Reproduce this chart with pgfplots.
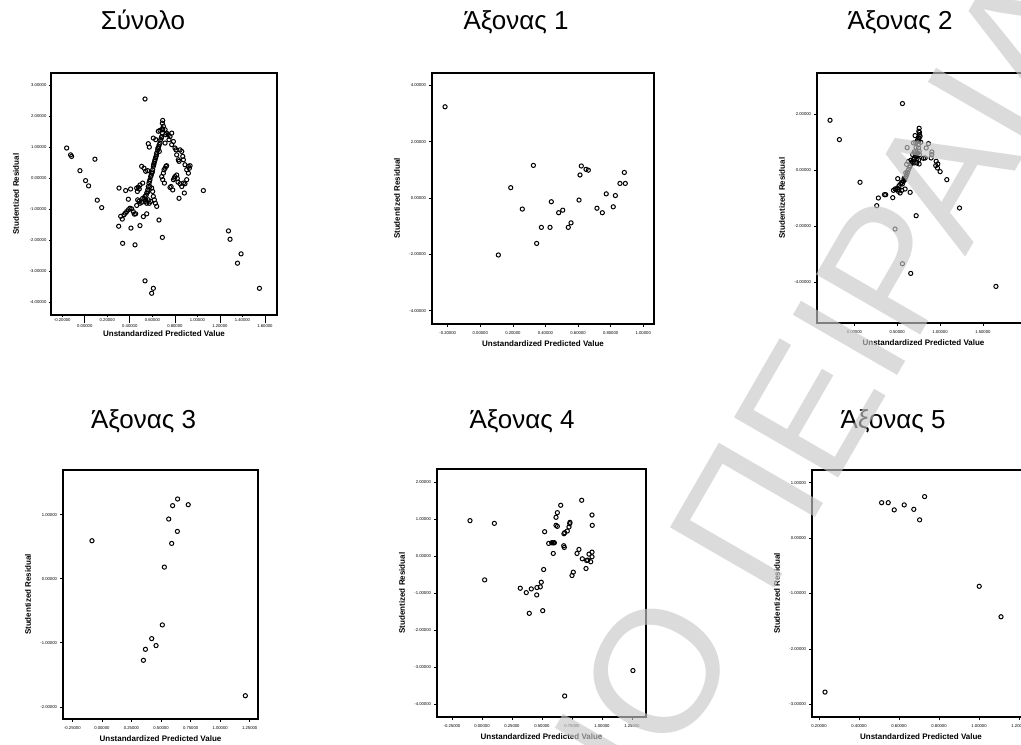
\documentclass[border=0pt]{standalone}
\usepackage{fontspec}
\setmainfont{Liberation Sans}
\usepackage{pgfplots}
\pgfplotsset{compat=1.18}

\newcommand\ticfont{\fontsize{2.1}{2.5}\selectfont}
\newcommand\labfont{\fontsize{4}{4.8}\selectfont\bfseries}
\newcommand\titfont{\fontsize{13}{15}\selectfont}
\definecolor{wm}{rgb}{0.78,0.78,0.78}

\pgfplotsset{spss/.style={
  scale only axis, anchor=south west,
  axis line style={line width=0.6pt},
  tick align=outside, xtick pos=bottom, ytick pos=left,
  major tick length=1.5pt,
  tick style={black, line width=0.35pt},
  tick label style={font=\ticfont},
  xticklabel style={inner sep=0pt, anchor=north, yshift=-2.2pt},
  yticklabel style={inner sep=0pt, anchor=east, xshift=-1.3pt},
  /pgf/number format/fixed, /pgf/number format/fixed zerofill,
  /pgf/number format/precision=5, /pgf/number format/assume math mode=true,
  scaled ticks=false,
  every axis y label/.style={font=\labfont, at={(axis description cs:0,0.5)}, xshift=-17.5pt, rotate=90, anchor=center},
  every axis x label/.style={font=\labfont, at={(axis description cs:0.5,0)}, yshift=-10pt, anchor=center},
  xlabel={Unstandardized Predicted Value},
  ylabel={Studentized Residual},
},
pts/.style={black, only marks, mark=o, mark size=1.05pt, mark options={line width=0.5pt, fill=none, draw=black}}}

\begin{document}
\begin{tikzpicture}[x=0.5pt,y=-0.5pt]
\useasboundingbox (0,0) rectangle (1021,744);
\clip (0,0) rectangle (1021,744);
\coordinate (p1) at (51,315);
\coordinate (p2) at (432,324);
\coordinate (p3) at (817,323);
\coordinate (p4) at (63,719);
\coordinate (p5) at (437,717);
\coordinate (p6) at (812,717);

% titles
\node[font=\titfont, anchor=base, inner sep=0pt] at (143,29) {Σύνολο};
\node[font=\titfont, anchor=base, inner sep=0pt] at (516,29) {Άξονας 1};
\node[font=\titfont, anchor=base, inner sep=0pt] at (900,29) {Άξονας 2};
\node[font=\titfont, anchor=base, inner sep=0pt] at (143.5,428) {Άξονας 3};
\node[font=\titfont, anchor=base, inner sep=0pt] at (522,428) {Άξονας 4};
\node[font=\titfont, anchor=base, inner sep=0pt] at (893,428) {Άξονας 5};

% Panel 1: Σύνολο
\begin{axis}[spss, at={(p1)}, width=113pt, height=121pt,
  xmin=-0.300, xmax=1.707, ymin=-4.41, ymax=3.387,
  xtick={-0.2,0.2,0.6,1.0,1.4}, ytick={-4,-3,-2,-1,0,1,2,3},
  major tick length=0.8pt,
  xticklabel style={yshift=1.4pt},
  extra x ticks={0,0.4,0.8,1.2,1.6},
  extra x tick style={major tick length=4pt, xticklabel style={yshift=0.35pt}},
  every axis x label/.style={font=\labfont, at={(axis description cs:0.5,0)}, yshift=-9.3pt, anchor=center}]
\addplot[pts] coordinates {
(-0.161,0.97) (-0.126,0.75) (-0.117,0.70) (-0.043,0.24) (0.007,-0.08) (0.034,-0.25)
(0.090,0.61) (0.111,-0.71) (0.150,-0.95) (0.304,-0.32) (0.301,-1.55) (0.319,-1.23)
(0.333,-1.32) (0.336,-2.10) (0.363,-0.40) (0.387,-0.68) (0.407,-0.35) (0.446,-2.15)
(0.535,2.55) (0.535,-3.31) (0.609,-3.55) (0.594,-3.71) (0.689,-1.91) (0.659,-1.35)
(1.053,-0.40) (1.276,-1.70) (1.290,-1.97) (1.388,-2.44) (1.356,-2.74) (1.551,-3.55)
(0.348,-1.18) (0.360,-1.13) (0.372,-1.08) (0.387,-1.02) (0.401,-0.97) (0.416,-0.99)
(0.431,-1.08) (0.440,-1.16) (0.452,-1.15) (0.461,-0.88) (0.470,-0.70) (0.481,-0.75)
(0.490,-0.81) (0.505,-0.78) (0.514,-0.65) (0.526,-0.68) (0.541,-0.70) (0.467,-0.43)
(0.476,-0.29) (0.484,-0.35) (0.490,-0.22) (0.461,-0.32) (0.410,-1.61) (0.490,-1.53)
(0.520,-1.24) (0.550,-1.15) (0.514,-0.16) (0.505,0.38) (0.526,0.32) (0.541,0.22)
(0.559,0.24) (0.564,1.11) (0.573,1.00) (0.609,1.29) (0.630,1.24)
(0.535,-0.59) (0.550,-0.48) (0.559,-0.38) (0.564,-0.27) (0.570,-0.16) (0.579,-0.05)
(0.585,0.05) (0.594,0.16) (0.603,0.27) (0.609,0.38) (0.615,0.48) (0.624,0.59)
(0.633,0.70) (0.639,0.81) (0.647,0.91) (0.656,1.02) (0.668,1.13) (0.674,1.24)
(0.683,1.34) (0.689,1.45) (0.692,1.56) (0.698,1.67) (0.689,1.77) (0.692,1.86)
(0.545,-0.55) (0.560,-0.44) (0.575,-0.10) (0.590,0.10) (0.600,0.20) (0.612,0.43)
(0.620,0.54) (0.628,0.65) (0.636,0.75) (0.650,0.97) (0.662,1.08) (0.680,1.30)
(0.713,1.56) (0.727,1.45) (0.742,1.40) (0.757,1.34) (0.772,1.45) (0.748,1.24)
(0.772,1.08) (0.787,1.18) (0.801,0.97) (0.810,0.91) (0.816,0.75) (0.831,0.59)
(0.837,0.54) (0.846,0.91) (0.861,0.86) (0.870,0.70) (0.876,0.59) (0.890,0.43)
(0.905,0.27) (0.920,0.38) (0.929,0.32) (0.935,0.40) (0.920,0.16) (0.905,-0.05)
(0.890,-0.18) (0.876,-0.16) (0.861,-0.27) (0.846,-0.18) (0.884,-0.48) (0.837,-0.65)
(0.698,0.16) (0.704,0.27) (0.713,0.32) (0.721,0.38) (0.727,0.40) (0.683,0.05)
(0.692,-0.05) (0.707,-0.16) (0.757,-0.30) (0.766,-0.27) (0.781,-0.38) (0.787,-0.05)
(0.796,0.00) (0.801,0.05) (0.816,0.10) (0.822,-0.01) (0.828,-0.13) (0.713,1.13)
(0.719,1.40) (0.653,1.51) (0.668,1.54) (0.689,1.59) (0.653,0.97) (0.662,0.86)
(0.579,-0.27) (0.594,-0.32) (0.603,-0.43) (0.609,-0.59) (0.618,-0.70) (0.627,-0.81)
(0.639,-0.91) (0.564,-0.70) (0.573,-0.81) (0.585,-0.75) (0.550,-0.81) (0.538,-0.75)
};
\end{axis}

% Panel 2: Άξονας 1
\begin{axis}[spss, at={(p2)}, width=111pt, height=125.5pt,
  xmin=-0.296, xmax=1.066, ymin=-4.47, ymax=4.44,
  xtick={-0.2,0,0.2,0.4,0.6,0.8,1.0}, ytick={-4,-2,0,2,4}]
\addplot[pts] coordinates {
(-0.216,3.24) (0.111,-2.02) (0.187,0.37) (0.258,-0.39) (0.326,1.16) (0.346,-1.61)
(0.375,-1.04) (0.428,-1.04) (0.436,-0.13) (0.481,-0.52) (0.506,-0.43) (0.540,-1.04)
(0.557,-0.88) (0.606,-0.07) (0.612,0.82) (0.620,1.14) (0.649,1.02) (0.663,0.99)
(0.716,-0.36) (0.749,-0.52) (0.773,0.15) (0.816,-0.31) (0.829,0.09) (0.857,0.52)
(0.884,0.91) (0.890,0.52)
};
\end{axis}

% Panel 3: Άξονας 2
\begin{axis}[spss, at={(p3)}, width=106.5pt, height=125pt,
  xmin=-0.436, xmax=2.05, ymin=-5.46, ymax=3.46,
  xtick={0,0.5,1.0,1.5}, ytick={-4,-2,0,2}]
\addplot[pts] coordinates {
(-0.284,1.774) (-0.175,1.083) (0.066,-0.440) (0.261,-1.274) (0.280,-1.000) (0.351,-0.881)
(0.366,-0.881) (0.448,-0.988) (0.475,-2.107) (0.506,-0.310) (0.561,2.369) (0.561,-3.345)
(0.658,-3.690) (0.651,-0.798) (0.721,-1.631) (1.227,-1.357) (1.079,-0.345) (1.652,-4.155)
(1.001,-0.060) (0.970,0.070) (0.950,0.155) (0.974,0.214) (0.955,0.310) (0.904,0.548)
(0.904,0.643) (0.896,0.429) (0.865,0.940) (0.838,0.786) (0.826,0.429) (0.806,0.417)
(0.775,0.988) (0.709,1.226) (0.756,1.488) (0.760,1.345) (0.767,1.202) (0.616,0.798)
(0.690,0.964) (0.717,0.964)
(0.752,1.381) (0.760,1.262) (0.756,1.143) (0.752,1.024) (0.748,0.905) (0.748,0.786)
(0.756,0.667) (0.760,0.548) (0.752,0.369) (0.756,0.214)
(0.487,-0.702) (0.503,-0.643) (0.522,-0.560) (0.541,-0.488) (0.553,-0.440) (0.573,-0.405)
(0.588,-0.345) (0.600,-0.250) (0.612,-0.167) (0.619,-0.083) (0.631,0.012) (0.643,0.095)
(0.651,0.155) (0.662,0.226) (0.674,0.286) (0.690,0.369) (0.701,0.429) (0.713,0.512)
(0.725,0.583) (0.456,-0.726) (0.475,-0.679) (0.514,-0.762) (0.534,-0.821) (0.553,-0.726)
(0.592,-0.679) (0.705,0.607) (0.721,0.488) (0.728,0.250) (0.697,0.250) (0.610,0.200)
(0.630,0.300) (0.660,0.350) (0.680,0.550) (0.700,0.650) (0.720,0.800) (0.735,1.050)
(0.745,1.150) (0.730,0.400) (0.740,0.600) (0.600,-0.100) (0.580,-0.300) (0.560,-0.500)
(0.520,-0.700)
};
\end{axis}

% Panel 4: Άξονας 3
\begin{axis}[spss, at={(p4)}, width=97.5pt, height=124.5pt,
  xmin=-0.329, xmax=1.32, ymin=-2.19, ymax=1.70,
  xtick={-0.25,0,0.25,0.5,0.75,1.0,1.25}, ytick={-2,-1,0,1}]
\addplot[pts] coordinates {
(-0.084,0.595) (0.640,1.247) (0.598,1.143) (0.730,1.158) (0.565,0.934) (0.638,0.741)
(0.590,0.553) (0.528,0.183) (0.511,-0.720) (0.421,-0.934) (0.458,-1.043) (0.368,-1.101)
(0.351,-1.273) (1.213,-1.826)
};
\end{axis}

% Panel 5: Άξονας 4
\begin{axis}[spss, at={(p5)}, width=104.5pt, height=124pt,
  xmin=-0.375, xmax=1.367, ymin=-4.34, ymax=2.35,
  xtick={-0.25,0,0.25,0.5,0.75,1.0,1.25}, ytick={-4,-3,-2,-1,0,1,2}]
\addplot[pts] coordinates {
(-0.100,0.957) (0.103,0.884) (0.022,-0.641) (0.319,-0.866) (0.369,-0.984) (0.411,-0.884)
(0.394,-1.543) (0.458,-0.848) (0.456,-1.047) (0.486,-0.830) (0.494,-0.704) (0.506,-1.471)
(0.514,-0.361) (0.522,0.659) (0.556,0.343) (0.581,0.361) (0.592,0.361) (0.597,0.361)
(0.603,0.361) (0.594,0.072) (0.617,1.047) (0.628,1.173) (0.617,0.830) (0.628,0.803)
(0.656,1.372) (0.683,0.605) (0.689,0.632) (0.681,0.280) (0.686,0.235) (0.711,0.677)
(0.725,0.785) (0.731,0.875) (0.733,0.911) (0.750,-0.523) (0.761,-0.433) (0.792,0.072)
(0.808,0.180) (0.831,1.507) (0.836,-0.072) (0.872,-0.117) (0.881,-0.108) (0.867,-0.334)
(0.892,0.054) (0.906,-0.153) (0.917,-0.018) (0.917,0.108) (0.917,1.110) (0.919,0.830)
(0.689,-3.773) (1.258,-3.087)
};
\end{axis}

% Panel 6: Άξονας 5
\begin{axis}[spss, at={(p6)}, width=109pt, height=123.5pt,
  xmin=0.165, xmax=1.255, ymin=-3.23, ymax=1.23,
  xtick={0.2,0.4,0.6,0.8,1.0,1.2}, ytick={-3,-2,-1,0,1}]
\addplot[pts] coordinates {
(0.230,-2.78) (0.513,0.64) (0.546,0.64) (0.576,0.51) (0.626,0.60) (0.674,0.52)
(0.703,0.33) (0.728,0.75) (1.001,-0.87) (1.110,-1.42)
};
\end{axis}

% watermark
\begin{scope}[every node/.style={font=\fontsize{87.5}{92}\selectfont, text=wm, text opacity=0.64, inner sep=0pt, rotate=60}]
\node[anchor=base west] at (651,802.5) {ΙΟ ΠΕΙΡΑΙΑ};
\node[anchor=base east] at (651,802.5) {ΠΑΝΕΠΙΣΤΗΜ};
\end{scope}
\end{tikzpicture}
\end{document}
